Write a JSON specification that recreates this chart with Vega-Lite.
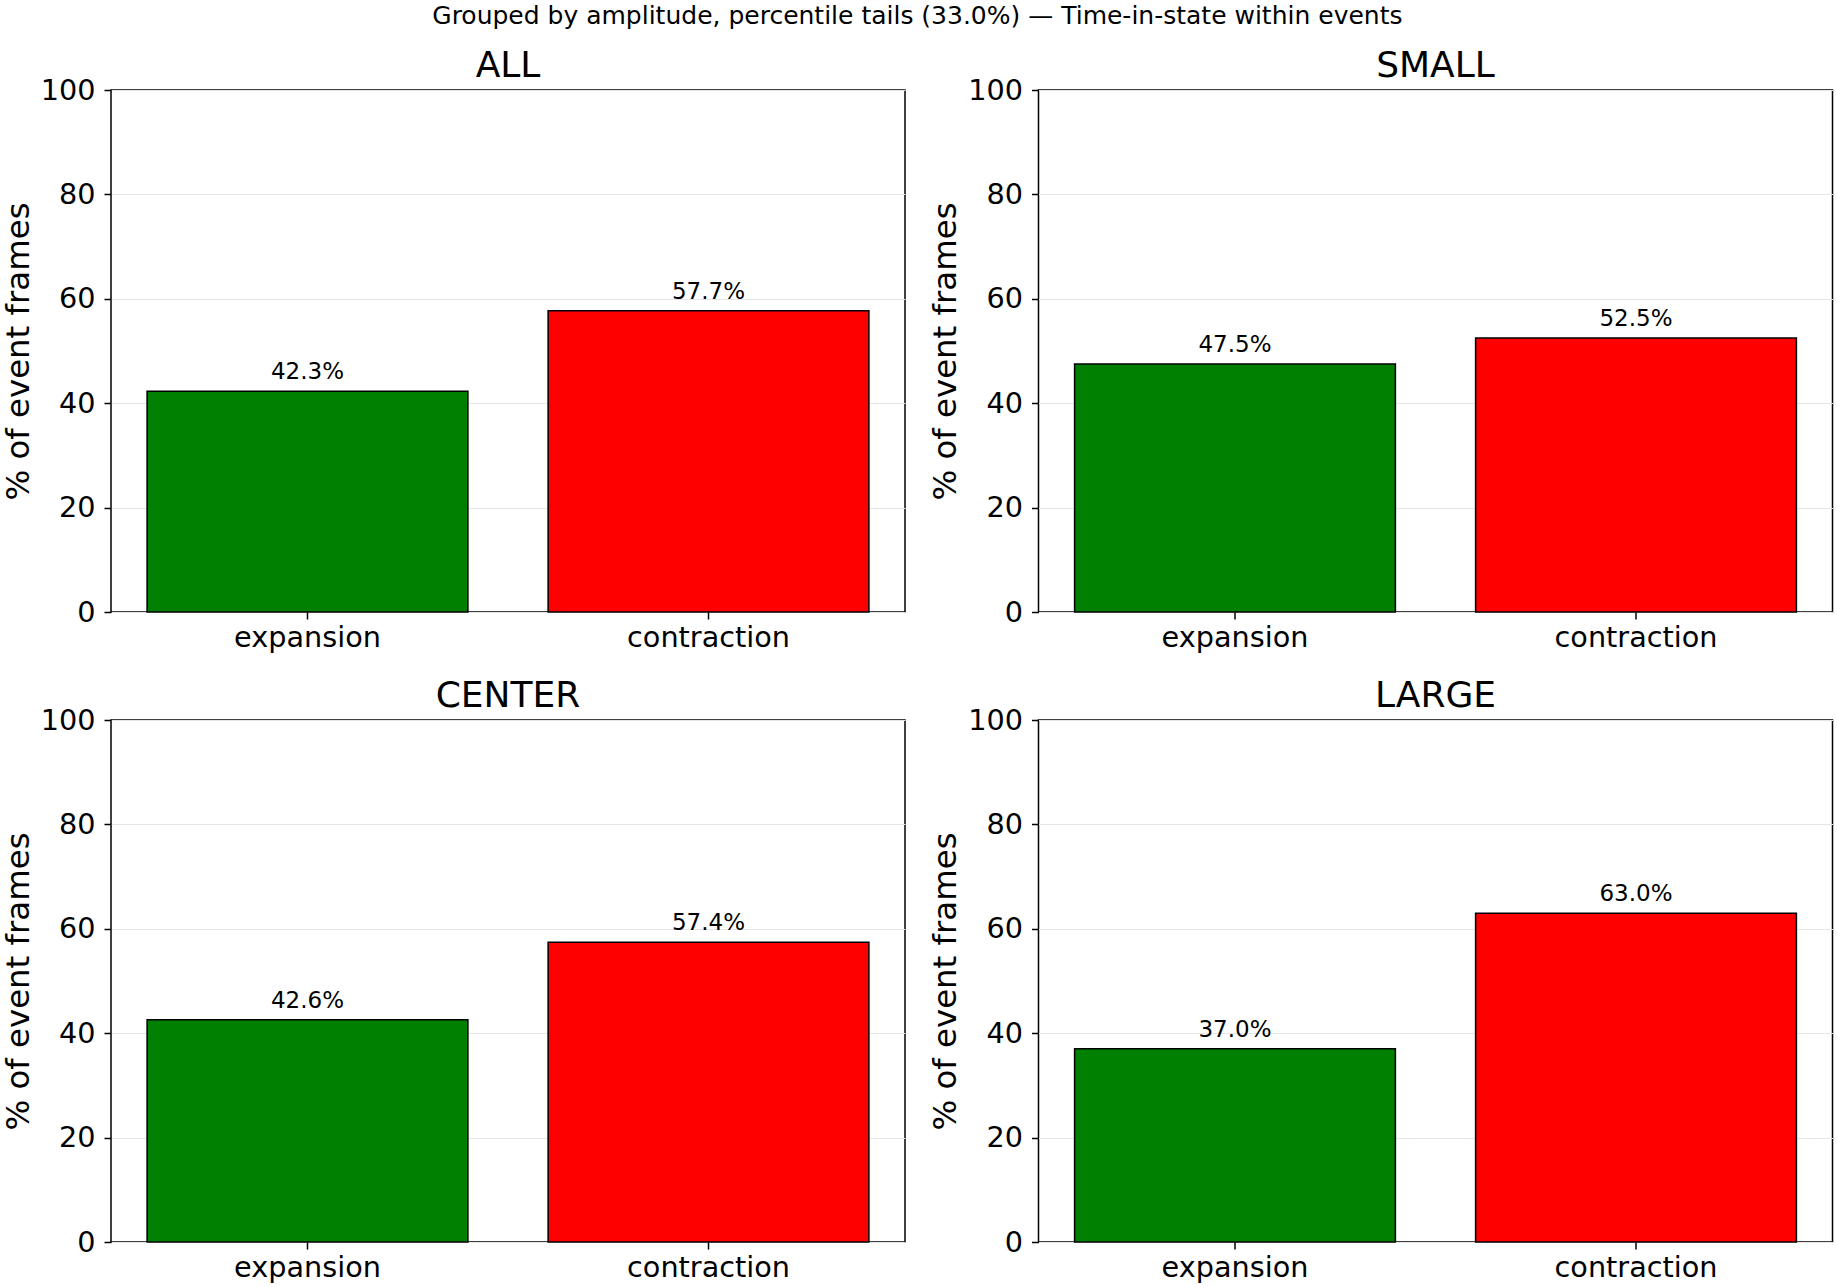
{
  "$schema": "https://vega.github.io/schema/vega-lite/v6.json",
  "background": "white",
  "padding": {"left": 1, "top": 4, "right": 4, "bottom": 2},
  "title": {
    "text": "Grouped by amplitude, percentile tails (33.0%) — Time-in-state within events",
    "fontSize": 25,
    "fontWeight": "normal",
    "anchor": "middle",
    "offset": 18,
    "color": "black"
  },
  "data": {
    "values": [
      {"group": "ALL", "state": "expansion", "pct": 42.3, "label": "42.3%"},
      {"group": "ALL", "state": "contraction", "pct": 57.7, "label": "57.7%"},
      {"group": "SMALL", "state": "expansion", "pct": 47.5, "label": "47.5%"},
      {"group": "SMALL", "state": "contraction", "pct": 52.5, "label": "52.5%"},
      {"group": "CENTER", "state": "expansion", "pct": 42.6, "label": "42.6%"},
      {"group": "CENTER", "state": "contraction", "pct": 57.4, "label": "57.4%"},
      {"group": "LARGE", "state": "expansion", "pct": 37.0, "label": "37.0%"},
      {"group": "LARGE", "state": "contraction", "pct": 63.0, "label": "63.0%"}
    ]
  },
  "facet": {
    "field": "group",
    "type": "nominal",
    "sort": ["ALL", "SMALL", "CENTER", "LARGE"],
    "header": {
      "title": null,
      "labelFontSize": 36,
      "labelColor": "black",
      "labelPadding": -9
    }
  },
  "columns": 2,
  "spacing": {"column": 22.5, "row": 24},
  "resolve": {"axis": {"x": "independent", "y": "independent"}},
  "spec": {
    "width": 794,
    "height": 522,
    "encoding": {
      "x": {
        "field": "state",
        "type": "nominal",
        "sort": ["expansion", "contraction"],
        "scale": {"paddingInner": 0.2, "paddingOuter": 0.09},
        "axis": {"title": null, "labelAngle": 0, "grid": false, "labelPadding": 4}
      },
      "y": {
        "field": "pct",
        "type": "quantitative",
        "scale": {"domain": [0, 100], "nice": false},
        "axis": {
          "title": "% of event frames",
          "values": [0, 20, 40, 60, 80, 100],
          "grid": true,
          "gridColor": "#e6e6e6",
          "gridWidth": 1,
          "labelPadding": 9,
          "titlePadding": 5
        }
      }
    },
    "layer": [
      {
        "mark": {"type": "bar", "stroke": "black", "strokeWidth": 1.5},
        "encoding": {
          "color": {
            "field": "state",
            "type": "nominal",
            "scale": {"domain": ["expansion", "contraction"], "range": ["#008000", "#ff0000"]},
            "legend": null
          }
        }
      },
      {
        "mark": {"type": "text", "baseline": "bottom", "dy": -7, "fontSize": 23, "color": "black"},
        "encoding": {"text": {"field": "label", "type": "nominal"}}
      }
    ]
  },
  "config": {
    "font": "DejaVu Sans",
    "view": {"stroke": "black", "strokeWidth": 1.5},
    "axis": {
      "domain": false,
      "ticks": true,
      "tickColor": "black",
      "tickSize": 7,
      "tickWidth": 1.5,
      "labelFontSize": 28.7,
      "labelColor": "black",
      "titleFontSize": 32.4,
      "titleFontWeight": "normal",
      "titleColor": "black"
    }
  }
}
